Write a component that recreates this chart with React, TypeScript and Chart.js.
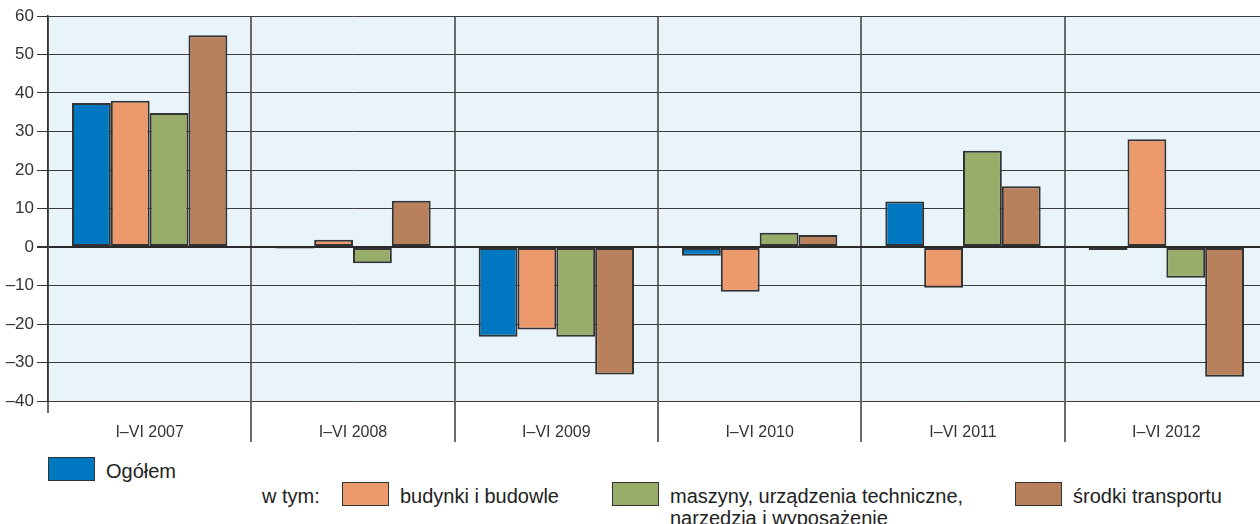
import React, { useEffect, useRef } from "react";
import { Chart, registerables } from "chart.js";

Chart.register(...registerables);

const categories = ["I–VI 2007", "I–VI 2008", "I–VI 2009", "I–VI 2010", "I–VI 2011", "I–VI 2012"];
const ogolem = [37.4, -0.4, -23.3, -2.3, 11.8, -0.8];
const budynki = [38.0, 1.9, -21.4, -11.6, -10.6, 28.0];
const maszyny = [34.8, -4.2, -23.3, 3.7, 25.0, -8.0];
const transport = [55.0, 12.0, -33.1, 3.1, 15.8, -33.7];
const seriesNames = ["Ogółem", "budynki i budowle", "maszyny, urządzenia techniczne, narzędzia i wyposażenie", "środki transportu"];
const yTickValues = [-40, -30, -20, -10, 0, 10, 20, 30, 40, 50, 60];
const yTickLabels = ["–40", "–30", "–20", "–10", "0", "10", "20", "30", "40", "50", "60"];

const COLORS = ["#0078c1", "#ec9a6b", "#99ad6a", "#b9815b"];
const FONT = "'Liberation Sans', Arial, sans-serif";

const plotBg = {
  id: "plotBg",
  beforeDraw(chart: any) {
    const { ctx, chartArea } = chart;
    ctx.save();
    ctx.fillStyle = "#e8f3fa";
    ctx.fillRect(chartArea.left, chartArea.top, chartArea.right - chartArea.left, chartArea.bottom - chartArea.top);
    ctx.restore();
  },
  afterDraw(chart: any) {
    const { ctx, chartArea } = chart;
    const n = categories.length;
    const w = (chartArea.right - chartArea.left) / n;
    ctx.save();
    ctx.strokeStyle = "#6a6a6a";
    ctx.lineWidth = 2;
    for (let i = 1; i < n; i++) {
      const x = Math.round(chartArea.left + i * w);
      ctx.beginPath();
      ctx.moveTo(x, chartArea.bottom);
      ctx.lineTo(x, chartArea.bottom + 41);
      ctx.stroke();
    }
    ctx.strokeStyle = "#333";
    ctx.lineWidth = 1.5;
    ctx.beginPath();
    ctx.moveTo(chartArea.left, chartArea.bottom);
    ctx.lineTo(chartArea.left, chartArea.bottom + 12);
    ctx.stroke();
    ctx.restore();
  },
};

function App() {
  const ref = useRef<HTMLCanvasElement>(null);
  useEffect(() => {
    const values = [ogolem, budynki, maszyny, transport];
    const chart = new Chart(ref.current as HTMLCanvasElement, {
      type: "bar",
      data: {
        labels: categories,
        datasets: values.map((v, i) => ({
          label: seriesNames[i],
          data: v,
          backgroundColor: COLORS[i],
          borderColor: "#333",
          borderWidth: 2,
          borderSkipped: false,
          barPercentage: 1,
          categoryPercentage: 0.764,
        })),
      },
      options: {
        animation: false,
        responsive: false,
        devicePixelRatio: 1,
        layout: { padding: { top: 16, left: 0, right: 0, bottom: 0 } },
        plugins: { legend: { display: false }, tooltip: { enabled: false } },
        scales: {
          x: {
            offset: true,
            grid: { offset: true, color: "#6a6a6a", lineWidth: 2, drawTicks: false },
            border: { display: false },
            ticks: { color: "#333", font: { family: FONT, size: 16 }, padding: 22, maxRotation: 0 },
            afterFit: (s: any) => { s.height = 50; },
          },
          y: {
            min: -40,
            max: 60,
            afterBuildTicks: (s: any) => { s.ticks = yTickValues.map((v) => ({ value: v })); },
            grid: {
              color: (c: any) => (c.tick && c.tick.value === 0 ? "#2a2a2a" : "#3c3c3c"),
              lineWidth: (c: any) => (c.tick && c.tick.value === 0 ? 2 : 1),
              tickLength: 11,
              tickColor: "#333",
            },
            border: { display: true, color: "#333", width: 1.5 },
            ticks: {
              color: "#333",
              font: { family: FONT, size: 17 },
              padding: 3,
              callback: (v: any) => {
                const i = yTickValues.indexOf(Number(v));
                return i >= 0 ? yTickLabels[i] : "";
              },
            },
            afterFit: (s: any) => { s.width = 48; },
          },
        },
      },
      plugins: [plotBg],
    });
    return () => chart.destroy();
  }, []);

  const box = (left: number, top: number, color: string) => (
    <div style={{ position: "absolute", left, top, width: 45, height: 22, background: color, border: "1px solid #333" }} />
  );
  const text = (left: number, top: number, content: React.ReactNode) => (
    <div style={{ position: "absolute", left, top, fontFamily: FONT, fontSize: 20, lineHeight: "22px", color: "#222", whiteSpace: "nowrap" }}>{content}</div>
  );

  return (
    <div style={{ position: "fixed", left: 0, top: 0, width: 1260, height: 524, overflow: "hidden", background: "#fff" }}>
      <canvas ref={ref} width={1268} height={451} style={{ position: "absolute", left: 0, top: 0, width: 1268, height: 451 }} />
      {box(48, 457, COLORS[0])}
      {text(106, 459.5, seriesNames[0])}
      {text(262, 484.5, "w tym:")}
      {box(342, 482, COLORS[1])}
      {text(400, 484.5, seriesNames[1])}
      {box(612, 482, COLORS[2])}
      {text(670, 484.5, <>maszyny, urządzenia techniczne,<br />narzędzia i wyposażenie</>)}
      {box(1015, 482, COLORS[3])}
      {text(1073, 484.5, seriesNames[3])}
    </div>
  );
}

export default App;
